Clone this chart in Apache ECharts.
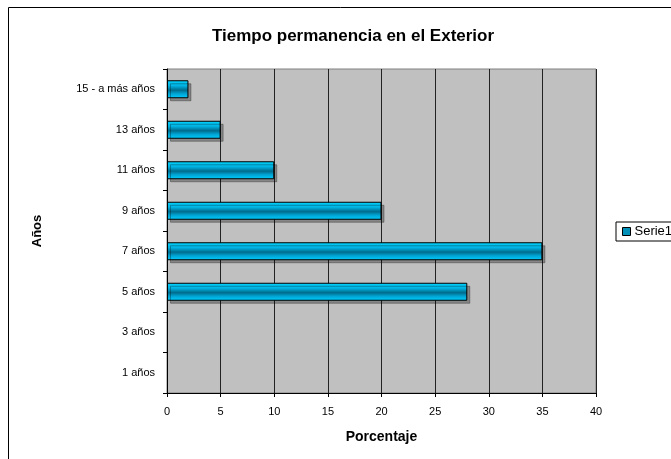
<!DOCTYPE html>
<html><head><meta charset="utf-8">
<script src="https://cdn.jsdelivr.net/npm/echarts@6/dist/echarts.min.js"></script>
<style>html,body{margin:0;padding:0;background:#fff}#c{width:671px;height:459px}</style>
</head><body><div id="c"></div>
<script>
const categories = ['1 años','3 años','5 años','7 años','9 años','11 años','13 años','15 - a más años'];
const values = [0, 0, 28, 35, 20, 10, 5, 2];
const seriesName = 'Serie1';
const titleText = 'Tiempo permanencia en el Exterior';

const chart = echarts.init(document.getElementById('c'));
const F = 'Liberation Sans, Arial, sans-serif';
const barGrad = new echarts.graphic.LinearGradient(0,0,0,1,[
  {offset:0,color:'#00d4ff'},
  {offset:0.3,color:'#00b4e4'},
  {offset:0.55,color:'#006c8c'},
  {offset:0.75,color:'#00a4d4'},
  {offset:1,color:'#00d0ff'}
]);
chart.setOption({
  animation:false,
  backgroundColor:'#fff',
  title:{text:titleText,left:348,top:23,textAlign:'center',textStyle:{fontFamily:F,fontSize:17,fontWeight:'bold',color:'#000'}},
  graphic:[{type:'rect',shape:{x:8.5,y:7.5,width:700,height:500},style:{fill:'none',stroke:'#000',lineWidth:1},silent:true}],
  legend:{left:616,top:222,orient:'vertical',padding:[3,6,3,6],borderColor:'#000',borderWidth:1,borderRadius:0,itemWidth:8,itemHeight:8,itemGap:0,
    textStyle:{fontFamily:F,fontSize:13,color:'#000',padding:[0,0,0,-1]},
    data:[{name:seriesName,icon:'rect',itemStyle:{color:'#0090b8',borderColor:'#000',borderWidth:1}}]},
  grid:{left:167,right:75,top:69,bottom:66,show:true,backgroundColor:'#c0c0c0',borderColor:'#808080',borderWidth:1},
  xAxis:{type:'value',min:0,max:40,interval:5,
    name:'Porcentaje',nameLocation:'middle',nameGap:37,nameTextStyle:{fontFamily:F,fontSize:14,fontWeight:'bold',color:'#000'},
    axisLine:{show:true,lineStyle:{color:'#000'}},axisTick:{show:true,length:4,lineStyle:{color:'#000'}},
    axisLabel:{fontFamily:F,fontSize:11,color:'#000',margin:13},
    splitLine:{show:true,lineStyle:{color:'#222',width:1}}},
  yAxis:{type:'category',data:categories,
    name:'Años',nameLocation:'middle',nameGap:123,nameRotate:90,nameTextStyle:{fontFamily:F,fontSize:13,fontWeight:'bold',color:'#000'},
    axisLine:{show:true,lineStyle:{color:'#000'}},axisTick:{show:true,length:4,lineStyle:{color:'#000'}},
    axisLabel:{fontFamily:F,fontSize:11,color:'#000',margin:12}},
  series:[{name:seriesName,type:'bar',data:values.map(v => v === 0 ? '-' : v),barWidth:18,
    itemStyle:{color:barGrad,borderColor:'#000',borderWidth:1,shadowColor:'rgba(0,0,0,0.3)',shadowOffsetX:3,shadowOffsetY:3}}]
});
</script></body></html>
